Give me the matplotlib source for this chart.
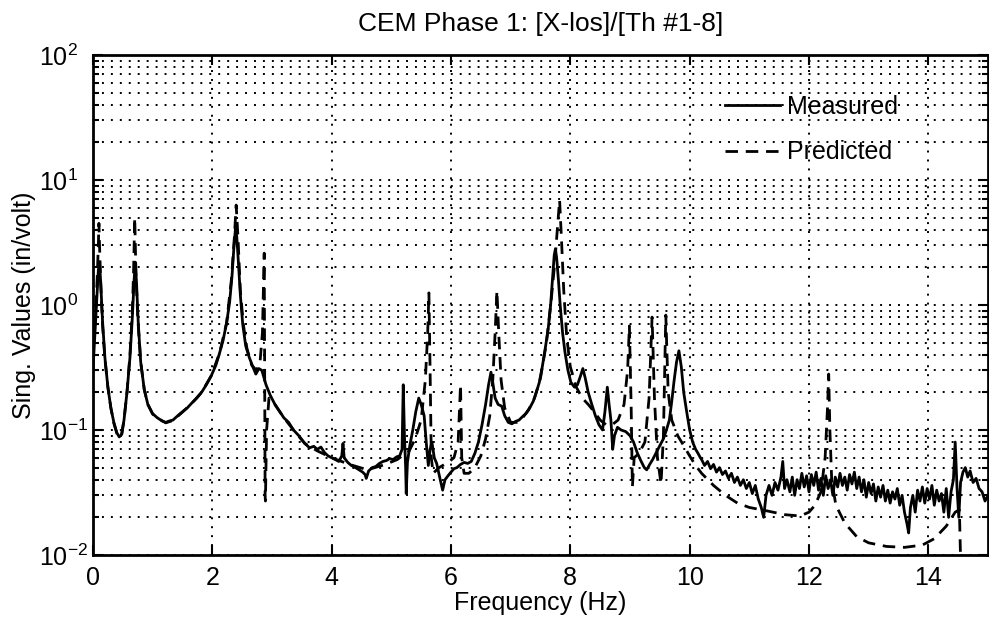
import matplotlib
matplotlib.use('Agg')
import matplotlib.pyplot as plt
from matplotlib.ticker import LogLocator, NullFormatter, FixedLocator

# ---------------- data ----------------
meas_freq = [0.00, 0.03, 0.06, 0.09, 0.11, 0.13, 0.16, 0.20, 0.25, 0.30, 0.35, 0.40, 0.44, 0.48,
             0.52, 0.57, 0.62, 0.66, 0.69, 0.71, 0.73, 0.76, 0.80, 0.86, 0.92, 1.00, 1.08, 1.16,
             1.22, 1.28, 1.34, 1.42, 1.50, 1.58, 1.66, 1.74, 1.82, 1.90, 1.98, 2.06, 2.12, 2.18,
             2.24, 2.29, 2.33, 2.36, 2.39, 2.41, 2.44, 2.47, 2.51, 2.56, 2.62, 2.68, 2.73, 2.78,
             2.83, 2.90, 2.97, 3.05, 3.13, 3.20, 3.28, 3.36, 3.45, 3.55, 3.63, 3.70, 3.76, 3.82,
             3.88, 3.94, 4.00, 4.06, 4.12, 4.17, 4.19, 4.21, 4.27, 4.33, 4.40, 4.46, 4.52, 4.56,
             4.58, 4.62, 4.68, 4.74, 4.80, 4.86, 4.92, 4.97, 5.03, 5.09, 5.14, 5.18, 5.20, 5.22,
             5.24, 5.25, 5.27, 5.31, 5.36, 5.41, 5.46, 5.50, 5.55, 5.59, 5.62, 5.65, 5.68, 5.72,
             5.76, 5.81, 5.86, 5.90, 5.95, 6.00, 6.05, 6.10, 6.16, 6.22, 6.28, 6.34, 6.40, 6.46,
             6.52, 6.58, 6.63, 6.67, 6.70, 6.74, 6.79, 6.85, 6.90, 6.96, 7.02, 7.08, 7.14, 7.20,
             7.26, 7.32, 7.38, 7.43, 7.48, 7.53, 7.58, 7.63, 7.67, 7.70, 7.73, 7.75, 7.77, 7.80,
             7.83, 7.87, 7.91, 7.96, 8.01, 8.07, 8.12, 8.17, 8.21, 8.25, 8.30, 8.36, 8.42, 8.48,
             8.54, 8.58, 8.62, 8.65, 8.68, 8.71, 8.74, 8.79, 8.85, 8.93, 9.00, 9.06, 9.12, 9.18,
             9.24, 9.28, 9.33, 9.38, 9.44, 9.50, 9.56, 9.61, 9.66, 9.70, 9.74, 9.78, 9.82, 9.86,
             9.90, 9.95, 10.00, 10.05, 10.10, 10.14, 10.18,
             10.20, 10.25, 10.30, 10.35, 10.40, 10.45, 10.50, 10.55, 10.60, 10.65, 10.70, 10.75,
             10.80, 10.85, 10.90, 10.95, 11.00, 11.05, 11.10, 11.15, 11.20, 11.24, 11.28, 11.33,
             11.38, 11.43, 11.48, 11.53, 11.56, 11.59, 11.63, 11.68, 11.72, 11.76, 11.80, 11.84,
             11.88, 11.92, 11.96, 12.00, 12.04, 12.08, 12.12, 12.16, 12.20, 12.24, 12.28, 12.32,
             12.36, 12.40, 12.44, 12.48, 12.52, 12.56, 12.60, 12.64, 12.68, 12.72, 12.76, 12.80,
             12.84, 12.88, 12.92, 12.96, 13.00, 13.04, 13.08, 13.12, 13.16, 13.20, 13.24, 13.28,
             13.32, 13.36, 13.40, 13.44, 13.48, 13.52, 13.56, 13.60, 13.64, 13.67, 13.70, 13.74,
             13.78, 13.82, 13.86, 13.90, 13.94, 13.98, 14.02, 14.06, 14.10, 14.14, 14.18, 14.22,
             14.26, 14.30, 14.34, 14.38, 14.42, 14.45, 14.48, 14.51, 14.54, 14.58, 14.62, 14.66,
             14.70, 14.75, 14.80, 14.85, 14.90, 14.95, 15.00]
meas_val = [0.30, 0.55, 1.0, 1.9, 2.2, 1.5, 0.75, 0.38, 0.22, 0.15, 0.115, 0.095, 0.088, 0.092,
            0.12, 0.2, 0.38, 0.8, 1.6, 2.2, 1.5, 0.7, 0.35, 0.21, 0.16, 0.135, 0.125, 0.118,
            0.115, 0.118, 0.12, 0.13, 0.14, 0.15, 0.165, 0.18, 0.2, 0.23, 0.27, 0.33, 0.41, 0.52,
            0.72, 1.05, 1.7, 2.8, 4.2, 3.5, 2.1, 1.2, 0.7, 0.47, 0.38, 0.32, 0.28, 0.31,
            0.3, 0.23, 0.19, 0.16, 0.14, 0.125, 0.115, 0.1, 0.09, 0.078, 0.072, 0.074, 0.07, 0.073,
            0.066, 0.062, 0.06, 0.058, 0.056, 0.062, 0.078, 0.06, 0.055, 0.052, 0.05, 0.048, 0.046, 0.044,
            0.041, 0.047, 0.05, 0.051, 0.054, 0.056, 0.057, 0.059, 0.058, 0.061, 0.062, 0.07, 0.23, 0.09,
            0.05, 0.031, 0.055, 0.075, 0.1, 0.14, 0.18, 0.16, 0.13, 0.075, 0.052, 0.07, 0.08, 0.06,
            0.054, 0.042, 0.033, 0.04, 0.043, 0.046, 0.049, 0.05, 0.053, 0.055, 0.054, 0.056, 0.065, 0.08,
            0.11, 0.16, 0.23, 0.29, 0.24, 0.18, 0.16, 0.155, 0.13, 0.115, 0.112, 0.117, 0.12, 0.128,
            0.136, 0.15, 0.17, 0.2, 0.24, 0.32, 0.45, 0.65, 1.0, 1.6, 2.5, 2.8, 2.4, 1.6,
            1.0, 0.6, 0.42, 0.3, 0.24, 0.22, 0.23, 0.27, 0.31, 0.26, 0.2, 0.16, 0.13, 0.11,
            0.1, 0.14, 0.22, 0.16, 0.12, 0.07, 0.09, 0.105, 0.1, 0.097, 0.09, 0.08, 0.066, 0.057,
            0.05, 0.048, 0.053, 0.058, 0.066, 0.075, 0.085, 0.1, 0.12, 0.17, 0.25, 0.35, 0.43, 0.32,
            0.2, 0.14, 0.1, 0.08, 0.07, 0.065, 0.06,
            0.058, 0.052, 0.056, 0.049, 0.053, 0.046, 0.05, 0.044, 0.047, 0.041, 0.045, 0.038,
            0.042, 0.036, 0.04, 0.034, 0.038, 0.031, 0.036, 0.028, 0.024, 0.02, 0.03, 0.036,
            0.03, 0.038, 0.033, 0.042, 0.056, 0.034, 0.04, 0.032, 0.042, 0.03, 0.04, 0.034,
            0.045, 0.035, 0.043, 0.032, 0.044, 0.036, 0.046, 0.033, 0.041, 0.03, 0.043, 0.034,
            0.04, 0.03, 0.042, 0.035, 0.045, 0.036, 0.042, 0.033, 0.044, 0.037, 0.046, 0.034,
            0.042, 0.032, 0.04, 0.029, 0.038, 0.031, 0.037, 0.027, 0.035, 0.029, 0.036, 0.027,
            0.033, 0.026, 0.032, 0.028, 0.034, 0.025, 0.03, 0.022, 0.018, 0.015, 0.024, 0.03,
            0.022, 0.033, 0.027, 0.035, 0.026, 0.034, 0.028, 0.036, 0.025, 0.033, 0.027, 0.031,
            0.022, 0.034, 0.02, 0.032, 0.04, 0.08, 0.035, 0.02, 0.038, 0.046, 0.05, 0.042,
            0.047, 0.038, 0.041, 0.034, 0.032, 0.027, 0.03]

pred_freq = [0.00, 0.04, 0.07, 0.09, 0.10, 0.11, 0.13, 0.16, 0.20, 0.25, 0.30, 0.35, 0.40, 0.44,
             0.48, 0.52, 0.57, 0.62, 0.66, 0.68, 0.70, 0.72, 0.75, 0.80, 0.86, 0.92, 1.00, 1.10,
             1.22, 1.34, 1.50, 1.66, 1.82, 1.98, 2.12, 2.24, 2.32, 2.37, 2.40, 2.43, 2.47, 2.52,
             2.58, 2.66, 2.74, 2.80, 2.84, 2.87, 2.885, 2.89, 2.91, 2.95, 3.05, 3.20, 3.36, 3.55,
             3.76, 4.00, 4.30, 4.60, 4.90, 5.10, 5.20, 5.30, 5.40, 5.50, 5.57, 5.61, 5.63, 5.65,
             5.67, 5.70, 5.80, 5.95, 6.05, 6.12, 6.16, 6.18, 6.22, 6.30, 6.40, 6.50, 6.58, 6.65,
             6.70, 6.74, 6.77, 6.80, 6.84, 6.90, 7.00, 7.10, 7.20, 7.30, 7.40, 7.50, 7.60, 7.68,
             7.74, 7.79, 7.82, 7.85, 7.89, 7.94, 8.00, 8.10, 8.20, 8.30, 8.40, 8.50, 8.60, 8.70,
             8.80, 8.90, 8.96, 8.99, 9.02, 9.04, 9.07, 9.15, 9.25, 9.32, 9.37, 9.41, 9.46, 9.52,
             9.56, 9.60, 9.64, 9.70, 9.80, 9.90, 10.00, 10.10, 10.20, 10.40, 10.60, 10.80, 11.00,
             11.30, 11.60, 11.85, 12.00, 12.10, 12.20, 12.27, 12.31, 12.33, 12.35, 12.38, 12.45,
             12.60, 12.80, 13.00, 13.30, 13.60, 13.90, 14.10, 14.30, 14.45, 14.52, 14.55, 14.60,
             14.80, 15.00]
pred_val = [0.45, 0.8, 1.6, 3.0, 4.5, 3.0, 1.5, 0.7, 0.37, 0.22, 0.15, 0.113, 0.094, 0.087,
            0.091, 0.12, 0.2, 0.4, 0.9, 1.8, 5.0, 1.8, 0.8, 0.35, 0.21, 0.16, 0.134, 0.123,
            0.114, 0.119, 0.139, 0.164, 0.2, 0.27, 0.41, 0.72, 1.6, 3.5, 6.3, 3.5, 1.3, 0.7,
            0.45, 0.33, 0.3, 0.35, 0.6, 2.6, 0.03, 0.027, 0.1, 0.18, 0.16, 0.125, 0.1, 0.078,
            0.068, 0.06, 0.053, 0.048, 0.053, 0.058, 0.063, 0.068, 0.085, 0.12, 0.25, 0.6, 1.25, 0.3,
            0.06, 0.045, 0.05, 0.055, 0.06, 0.08, 0.23, 0.06, 0.045, 0.045, 0.05, 0.062, 0.085, 0.13,
            0.25, 0.6, 1.3, 0.6, 0.25, 0.15, 0.115, 0.115, 0.125, 0.145, 0.18, 0.26, 0.5, 1.1,
            2.2, 4.5, 6.9, 3.5, 1.3, 0.55, 0.32, 0.22, 0.18, 0.16, 0.14, 0.12, 0.11, 0.11,
            0.12, 0.16, 0.3, 0.68, 0.15, 0.035, 0.06, 0.065, 0.08, 0.18, 0.8, 0.18, 0.06, 0.037,
            0.09, 0.83, 0.2, 0.12, 0.09, 0.075, 0.062, 0.052, 0.045, 0.036, 0.03, 0.026, 0.024,
            0.0225, 0.021, 0.0205, 0.022, 0.025, 0.032, 0.06, 0.15, 0.28, 0.1, 0.04, 0.025,
            0.018, 0.014, 0.0125, 0.0117, 0.0115, 0.012, 0.0135, 0.017, 0.022, 0.023, 0.006, 0.004,
            0.005, 0.006]

x_ticks = [0, 2, 4, 6, 8, 10, 12, 14]
title_text = 'CEM Phase 1: [X-los]/[Th #1-8]'
x_label = 'Frequency (Hz)'
y_label = 'Sing. Values (in/volt)'
series_labels = ['Measured', 'Predicted']

# ---------------- style ----------------
plt.rcParams['font.family'] = ['Liberation Sans', 'DejaVu Sans']
plt.rcParams['mathtext.fontset'] = 'custom'
plt.rcParams['mathtext.rm'] = 'Liberation Sans'
plt.rcParams['mathtext.it'] = 'Liberation Sans:italic'
plt.rcParams['mathtext.bf'] = 'Liberation Sans:bold'
plt.rcParams['mathtext.default'] = 'regular'
plt.rcParams['axes.unicode_minus'] = False

fig = plt.figure(figsize=(9.89, 6.18), dpi=100)
ax = fig.add_axes([0.094, 0.102, 0.905, 0.809])

ax.plot(meas_freq, meas_val, color='black', lw=2.0, label=series_labels[0], zorder=3)
ax.plot(pred_freq, pred_val, color='black', lw=2.0, ls=(0, (4.5, 2.8)), label=series_labels[1], zorder=3)

ax.set_yscale('log')
ax.set_xlim(0, 15)
ax.set_ylim(1e-2, 1e2)
ax.xaxis.set_major_locator(FixedLocator(x_ticks))
ax.yaxis.set_major_locator(LogLocator(base=10, numticks=10))
ax.yaxis.set_minor_locator(LogLocator(base=10, subs=range(2, 10), numticks=40))
ax.yaxis.set_minor_formatter(NullFormatter())

dot = (0, (1.0, 3.6))
ax.grid(True, which='major', axis='both', color='black', ls=dot, lw=1.4)
ax.grid(True, which='minor', axis='y', color='black', ls=dot, lw=1.4)
ax.set_axisbelow(True)

ax.tick_params(which='both', direction='in', top=True, right=True, width=1.5, color='black')
ax.tick_params(which='major', length=7, labelsize=18)
ax.tick_params(axis='x', which='major', pad=8)
ax.tick_params(which='minor', length=4)
ax.tick_params(axis='y', which='major', pad=39)
for lbl in ax.get_yticklabels():
    lbl.set_horizontalalignment('left')

for s in ax.spines.values():
    s.set_linewidth(2.0)

ax.set_title(title_text, fontsize=19, pad=17)
ax.set_xlabel(x_label, fontsize=18, labelpad=1)
ax.set_ylabel(y_label, fontsize=18)
ax.yaxis.set_label_coords(-0.064, 0.5)

leg = ax.legend(loc='upper right', bbox_to_anchor=(0.925, 0.965), frameon=False, fontsize=18,
                handlelength=2.2, handletextpad=0.3, labelspacing=0.85)

fig.savefig('out.png', dpi=100)
